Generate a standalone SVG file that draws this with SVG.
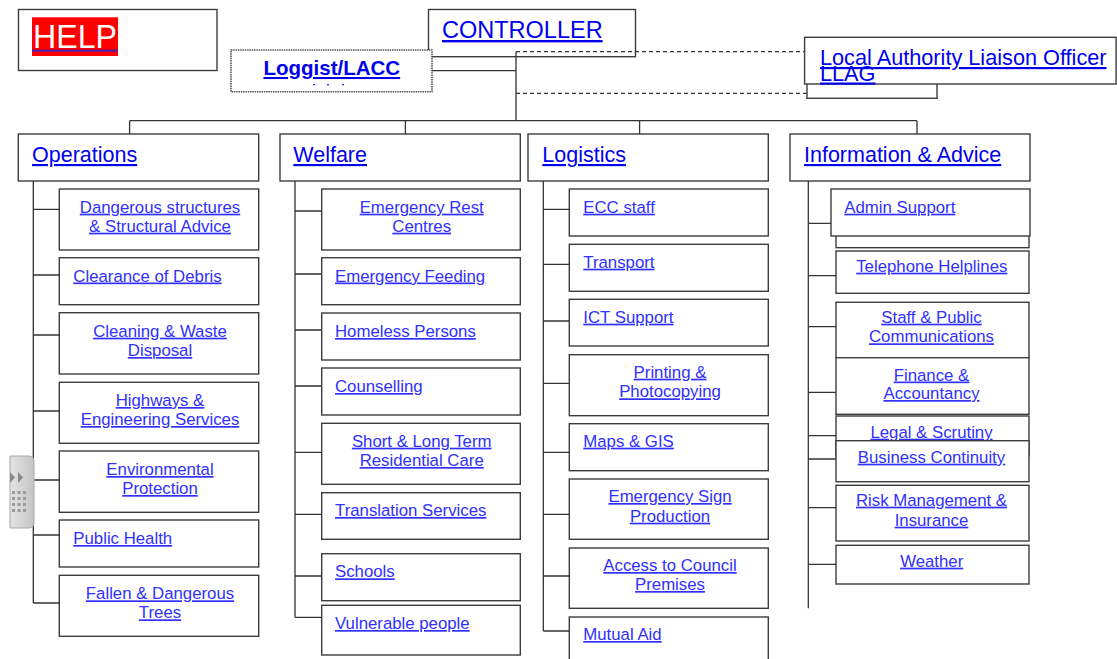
<svg xmlns="http://www.w3.org/2000/svg" width="1117" height="659" viewBox="0 0 1117 659">
<defs>
<style>
.box{fill:#fff;stroke:#3c3c3c;stroke-width:1.4}
.dot{fill:#fff;stroke:#555;stroke-width:1.6;stroke-dasharray:1.5 0.8}
text{font-family:"Liberation Sans",Arial,sans-serif;text-decoration:underline}
.h{font-size:21.5px;fill:#0000ee}
.t{font-size:16.8px;fill:#3030ff}
.c{text-anchor:middle}
.conn{stroke:#333;stroke-width:1.3;fill:none}
.dash{stroke-dasharray:4 3}
</style>
<linearGradient id="tabg" x1="0" y1="0" x2="1" y2="0">
<stop offset="0" stop-color="#e4e4e4"/>
<stop offset="1" stop-color="#c4c4c4"/>
</linearGradient>
</defs>
<rect width="1117" height="659" fill="#fff"/>

<g id="help">
<rect class="box" x="18.5" y="9.5" width="198.5" height="61"/>
<rect x="32" y="17.3" width="86" height="38.7" fill="#ff0000"/>
<text x="33" y="47.5" font-size="34" fill="#fff" textLength="84" lengthAdjust="spacingAndGlyphs" style="text-decoration:none">HELP</text>
<rect x="32" y="49.6" width="86" height="2" fill="#4a20b0"/>
</g>

<g id="controller">
<rect class="box" x="428.5" y="9.5" width="207" height="47.2"/>
<text class="h" x="442" y="38" style="font-size:23.5px">CONTROLLER</text>
</g>

<g id="loggist">
<rect class="dot" x="231" y="50" width="201" height="41.7"/>
<text x="331.8" y="75" text-anchor="middle" font-weight="bold" style="font-size:20.5px;fill:#0000ee">Loggist/LACC</text>
<g fill="#3030ff"><rect x="313" y="84" width="2" height="1.3"/><rect x="327" y="84" width="2" height="1.3"/><rect x="342" y="84" width="2" height="1.3"/></g>
</g>

<g id="llag">
<rect class="box" x="807" y="78" width="130" height="20.3"/>
</g>
<g id="lalo">
<rect class="box" x="804.6" y="37.3" width="311.5" height="46.7"/>
<text x="820" y="65" style="font-size:21.7px;fill:#0000ee">Local Authority Liaison Officer</text>
<text x="820" y="80.5" style="font-size:21.7px;fill:#0000ee">LLAG</text>
</g>

<g id="operations">
<rect class="box" x="18.3" y="134" width="240.4" height="47"/>
<text class="h" x="32" y="162">Operations</text>
</g>
<g id="welfare">
<rect class="box" x="280" y="134" width="240.3" height="47"/>
<text class="h" x="293.3" y="162">Welfare</text>
</g>
<g id="logistics">
<rect class="box" x="528" y="134" width="240.3" height="47"/>
<text class="h" x="542.3" y="162">Logistics</text>
</g>
<g id="information">
<rect class="box" x="790" y="134" width="240" height="47"/>
<text class="h" x="804" y="162">Information &amp; Advice</text>
</g>

<g id="op-dangerous">
<rect class="box" x="59.3" y="189" width="199.4" height="61"/>
<text class="t c" x="160" y="212.7">Dangerous structures</text>
<text class="t c" x="160" y="231.7">&amp; Structural Advice</text>
</g>
<g id="op-debris">
<rect class="box" x="59.3" y="257.7" width="199.4" height="47"/>
<text class="t" x="73.3" y="281.5">Clearance of Debris</text>
</g>
<g id="op-cleaning">
<rect class="box" x="59.3" y="312.7" width="199.4" height="61.3"/>
<text class="t c" x="160" y="336.7">Cleaning &amp; Waste</text>
<text class="t c" x="160" y="356">Disposal</text>
</g>
<g id="op-highways">
<rect class="box" x="59.3" y="382.3" width="199.4" height="61"/>
<text class="t c" x="160" y="406">Highways &amp;</text>
<text class="t c" x="160" y="425">Engineering Services</text>
</g>
<g id="op-environmental">
<rect class="box" x="59.3" y="451" width="199.4" height="61.3"/>
<text class="t c" x="160" y="475">Environmental</text>
<text class="t c" x="160" y="494">Protection</text>
</g>
<g id="op-publichealth">
<rect class="box" x="59.3" y="520" width="199.4" height="47"/>
<text class="t" x="73.3" y="544">Public Health</text>
</g>
<g id="op-fallen">
<rect class="box" x="59.3" y="575.3" width="199.4" height="61"/>
<text class="t c" x="160" y="599.3">Fallen &amp; Dangerous</text>
<text class="t c" x="160" y="618.3">Trees</text>
</g>

<g id="w-rest">
<rect class="box" x="321.7" y="189" width="198.6" height="61"/>
<text class="t c" x="421.7" y="212.7">Emergency Rest</text>
<text class="t c" x="421.7" y="231.7">Centres</text>
</g>
<g id="w-feeding">
<rect class="box" x="321.7" y="257.7" width="198.6" height="47"/>
<text class="t" x="335" y="281.5">Emergency Feeding</text>
</g>
<g id="w-homeless">
<rect class="box" x="321.7" y="313" width="198.6" height="47"/>
<text class="t" x="335" y="337">Homeless Persons</text>
</g>
<g id="w-counselling">
<rect class="box" x="321.7" y="368" width="198.6" height="47"/>
<text class="t" x="335" y="392">Counselling</text>
</g>
<g id="w-residential">
<rect class="box" x="321.7" y="423.3" width="198.6" height="61"/>
<text class="t c" x="421.7" y="446.7">Short &amp; Long Term</text>
<text class="t c" x="421.7" y="466">Residential Care</text>
</g>
<g id="w-translation">
<rect class="box" x="321.7" y="492.7" width="198.6" height="46.6"/>
<text class="t" x="335" y="516">Translation Services</text>
</g>
<g id="w-schools">
<rect class="box" x="321.7" y="553.7" width="198.6" height="47"/>
<text class="t" x="335" y="577.3">Schools</text>
</g>
<g id="w-vulnerable">
<rect class="box" x="321.7" y="605.3" width="198.6" height="49.7"/>
<text class="t" x="335" y="629">Vulnerable people</text>
</g>

<g id="l-ecc">
<rect class="box" x="569.3" y="189" width="199" height="47"/>
<text class="t" x="583.3" y="212.7">ECC staff</text>
</g>
<g id="l-transport">
<rect class="box" x="569.3" y="244.3" width="199" height="47"/>
<text class="t" x="583.3" y="267.7">Transport</text>
</g>
<g id="l-ict">
<rect class="box" x="569.3" y="299.3" width="199" height="46.7"/>
<text class="t" x="583.3" y="322.7">ICT Support</text>
</g>
<g id="l-printing">
<rect class="box" x="569.3" y="354.7" width="199" height="61"/>
<text class="t c" x="670" y="377.7">Printing &amp;</text>
<text class="t c" x="670" y="397.3">Photocopying</text>
</g>
<g id="l-maps">
<rect class="box" x="569.3" y="423.7" width="199" height="47"/>
<text class="t" x="583.3" y="446.7">Maps &amp; GIS</text>
</g>
<g id="l-sign">
<rect class="box" x="569.3" y="479" width="199" height="60.3"/>
<text class="t c" x="670" y="502">Emergency Sign</text>
<text class="t c" x="670" y="521.7">Production</text>
</g>
<g id="l-access">
<rect class="box" x="569.3" y="548" width="199" height="60.3"/>
<text class="t c" x="670" y="571">Access to Council</text>
<text class="t c" x="670" y="590">Premises</text>
</g>
<g id="l-mutual">
<rect class="box" x="569.3" y="617" width="199" height="50"/>
<text class="t" x="583.3" y="640">Mutual Aid</text>
</g>

<g id="i-admin">
<rect class="box" x="836" y="200" width="193" height="47.7"/>
<rect class="box" x="831" y="189" width="199" height="47"/>
<text class="t" x="844.3" y="212.7">Admin Support</text>
</g>
<g id="i-telephone">
<rect class="box" x="836" y="251" width="193" height="42.3"/>
<text class="t c" x="931.8" y="271.7">Telephone Helplines</text>
</g>
<g id="i-staff">
<rect class="box" x="836" y="302.3" width="193" height="55.4"/>
<text class="t c" x="931.5" y="322.7">Staff &amp; Public</text>
<text class="t c" x="931.5" y="342.3">Communications</text>
</g>
<g id="i-finance">
<rect class="box" x="836" y="357.7" width="193" height="56.6"/>
<text class="t c" x="931.5" y="380.5">Finance &amp;</text>
<text class="t c" x="931.5" y="399">Accountancy</text>
</g>
<g id="i-legal">
<rect class="box" x="836" y="416" width="193" height="40"/>
<text class="t c" x="931.5" y="437.7">Legal &amp; Scrutiny</text>
</g>
<g id="i-business">
<rect class="box" x="836" y="440.7" width="193" height="41"/>
<text class="t c" x="931.5" y="462.7">Business Continuity</text>
</g>
<g id="i-risk">
<rect class="box" x="836" y="485.3" width="193" height="55.7"/>
<text class="t c" x="931.5" y="505.7">Risk Management &amp;</text>
<text class="t c" x="931.5" y="525.7">Insurance</text>
</g>
<g id="i-weather">
<rect class="box" x="836" y="545.3" width="193" height="38.7"/>
<text class="t c" x="931.7" y="566.7">Weather</text>
</g>

<g id="connectors">
<path class="conn" d="M516 51.7V120.7M432 70.7H516"/>
<path class="conn dash" d="M516 51.7H804.6M516 93.3H807"/>
<path class="conn" d="M129.6 120.7H917M129.6 120.7V134M405.4 120.7V134M639.6 120.7V134M917 120.7V134"/>
<path class="conn" d="M33.3 181V603M33.3 209.3H59.3M33.3 275H59.3M33.3 335H59.3M33.3 411H59.3M33.3 480H59.3M33.3 535H59.3M33.3 603H59.3"/>
<path class="conn" d="M295 181V617.3M295 211H321.7M295 274H321.7M295 330H321.7M295 386H321.7M295 452.3H321.7M295 514.3H321.7M295 576H321.7M295 617.3H321.7"/>
<path class="conn" d="M543.3 181V631M543.3 209.3H569.3M543.3 264.3H569.3M543.3 321H569.3M543.3 383.3H569.3M543.3 452.3H569.3M543.3 514.3H569.3M543.3 576H569.3M543.3 631H569.3"/>
<path class="conn" d="M808.3 181V608.3M808.3 223.3H831M808.3 275.7H836M808.3 326.7H836M808.3 392.3H836M808.3 435.7H836M808.3 459H836M808.3 507.7H836M808.3 564.3H836"/>
</g>

<g id="sidebar-tab">
<path d="M10 456H29A5 5 0 0 1 34 461V523A5 5 0 0 1 29 528H10Z" fill="url(#tabg)" stroke="#a8a8a8" stroke-width="1"/>
<path d="M10 472L15 477.5L10 483Z M18 472L23 477.5L18 483Z" fill="#8a8a8a"/>
<g fill="#9a9a9a">
<rect x="12" y="491" width="3" height="3"/><rect x="17.5" y="491" width="3" height="3"/><rect x="23" y="491" width="3" height="3"/>
<rect x="12" y="497" width="3" height="3"/><rect x="17.5" y="497" width="3" height="3"/><rect x="23" y="497" width="3" height="3"/>
<rect x="12" y="503" width="3" height="3"/><rect x="17.5" y="503" width="3" height="3"/><rect x="23" y="503" width="3" height="3"/>
<rect x="12" y="509" width="3" height="3"/><rect x="17.5" y="509" width="3" height="3"/><rect x="23" y="509" width="3" height="3"/>
</g>
</g>
</svg>
